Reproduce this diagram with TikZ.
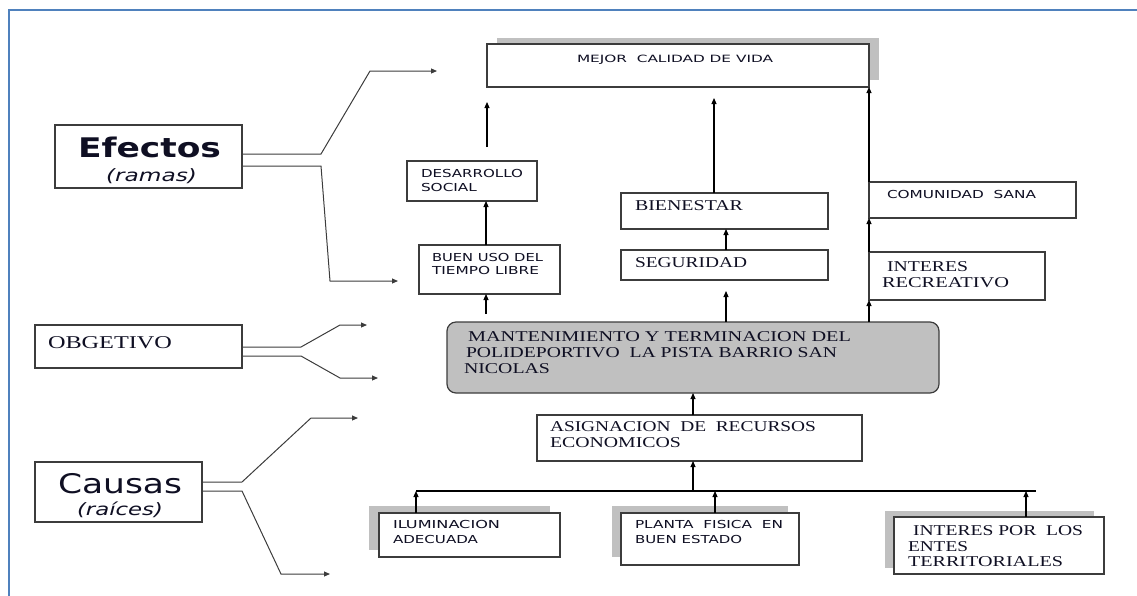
\documentclass[tikz,border=0pt]{standalone}
\usepackage{fontspec}
\setmainfont{Liberation Serif}
\newfontfamily\sanf{DejaVu Sans}
\usepackage{graphicx}
\usetikzlibrary{arrows.meta,calc}
\definecolor{frameblue}{RGB}{79,129,189}
\definecolor{boxline}{RGB}{60,60,60}
\definecolor{shadowgray}{RGB}{192,192,192}
\definecolor{maingray}{RGB}{192,192,192}
\definecolor{txtc}{RGB}{15,15,35}
\newcommand\lw[2]{\resizebox{#1pt}{\height}{#2}}
\begin{document}
\begin{tikzpicture}[x=1pt,y=-1pt,
  box/.style={draw=boxline, line width=1.2pt, fill=white, inner sep=0pt, outer sep=0pt, anchor=north west},
  mainbox/.style={box, fill=maingray, rounded corners=9pt},
  shadowbox/.style={fill=shadowgray},
  txt/.style={anchor=base west, inner sep=0pt, outer sep=0pt, text=txtc},
  sanstxt/.style={txt, font=\sanf\fontsize{11}{13}\selectfont},
  seriftxt/.style={txt, font=\fontsize{15}{17}\selectfont},
  arr/.style={draw=black, line width=1.1pt, -{Triangle[length=6pt,width=5pt]}},
  branch/.style={draw=boxline, line width=1pt, -{Triangle[length=6pt,width=5pt]}},
  plain/.style={draw=black, line width=1.1pt}
]
\useasboundingbox (0,0) rectangle (1137,595);
\clip (0,0) rectangle (1137,595);
\draw[frameblue, line width=2pt] (9,10) rectangle (1160,620);

% shadows
\fill[shadowbox] (497,38) rectangle (879,80);
\fill[shadowbox] (369,506) rectangle (550,550);
\fill[shadowbox] (612,506) rectangle (788,557);
\fill[shadowbox] (885,511) rectangle (1094,568);

% boxes
\node[box, minimum width=187pt, minimum height=63pt] (efectos) at (55,125) {};
\node[box, minimum width=207pt, minimum height=43pt] (obgetivo) at (35,325) {};
\node[box, minimum width=167pt, minimum height=60pt] (causas) at (35,462) {};
\node[box, minimum width=382pt, minimum height=43pt] (mejor) at (487,44) {};
\node[box, minimum width=130pt, minimum height=40pt] (desarrollo) at (407,161) {};
\node[box, minimum width=141pt, minimum height=49pt] (buen) at (419,245) {};
\node[box, minimum width=207pt, minimum height=36pt] (bienestar) at (621,193) {};
\node[box, minimum width=207pt, minimum height=30pt] (seguridad) at (621,250) {};
\node[box, minimum width=207pt, minimum height=36pt] (comunidad) at (869,182) {};
\node[box, minimum width=176pt, minimum height=48pt] (interes) at (869,252) {};
\node[mainbox, minimum width=492pt, minimum height=71pt] (main) at (447,322) {};
\node[box, minimum width=325pt, minimum height=46pt] (asign) at (537,415) {};
\node[box, minimum width=181pt, minimum height=44pt] (ilum) at (379,513) {};
\node[box, minimum width=178pt, minimum height=52pt] (planta) at (621,513) {};
\node[box, minimum width=210pt, minimum height=57pt] (entes) at (894,517) {};

% texts
\node[txt, font=\sanf\bfseries\fontsize{27}{30}\selectfont] (tef) at (78,157) {\lw{143}{Efectos}};
\node[txt, font=\sanf\itshape\fontsize{17}{20}\selectfont] (tra) at (106,181) {\lw{91}{(ramas)}};
\node[txt, font=\sanf\fontsize{27}{30}\selectfont] (tca) at (58,493) {\lw{124}{Causas}};
\node[txt, font=\sanf\itshape\fontsize{17}{20}\selectfont] (trc) at (77,515) {\lw{86}{(raíces)}};
\node[seriftxt, font=\fontsize{18}{20}\selectfont] (tob) at (48,348) {\lw{124}{OBGETIVO}};

\node[sanstxt, font=\sanf\fontsize{10}{12}\selectfont] (tm) at (577,62) {\lw{196}{MEJOR\ \ CALIDAD DE VIDA}};
\node[sanstxt] (td1) at (421,177) {\lw{102}{DESARROLLO}};
\node[sanstxt] (td2) at (421,191) {\lw{56}{SOCIAL}};
\node[sanstxt] (tb1) at (432,261) {\lw{111}{BUEN USO DEL}};
\node[sanstxt] (tb2) at (432,274) {\lw{107}{TIEMPO LIBRE}};
\node[sanstxt] (tc) at (887,198) {\lw{149}{COMUNIDAD\ \ SANA}};
\node[sanstxt] (ti1) at (393,528) {\lw{107}{ILUMINACION}};
\node[sanstxt] (ti2) at (393,543) {\lw{85}{ADECUADA}};
\node[sanstxt] (tp1) at (635,528) {\lw{148}{PLANTA\ \ FISICA\ \ EN}};
\node[sanstxt] (tp2) at (635,543) {\lw{107}{BUEN ESTADO}};

\node[seriftxt] (tbi) at (635,210) {\lw{108}{BIENESTAR}};
\node[seriftxt] (tse) at (635,267) {\lw{112}{SEGURIDAD}};
\node[seriftxt] (tir1) at (887,271) {\lw{81}{INTERES}};
\node[seriftxt] (tir2) at (882,287) {\lw{127}{RECREATIVO}};
\node[seriftxt] (tma1) at (468,341) {\lw{383}{MANTENIMIENTO Y TERMINACION DEL}};
\node[seriftxt] (tma2) at (466,357) {\lw{371}{POLIDEPORTIVO\ \ LA PISTA BARRIO SAN}};
\node[seriftxt] (tma3) at (464,373) {\lw{86}{NICOLAS}};
\node[seriftxt] (tas1) at (550,431) {\lw{266}{ASIGNACION\ \ DE\ \ RECURSOS}};
\node[seriftxt] (tas2) at (550,447) {\lw{131}{ECONOMICOS}};
\node[seriftxt] (ten1) at (913,535) {\lw{170}{INTERES POR\ \ LOS}};
\node[seriftxt] (ten2) at (908,551) {\lw{60}{ENTES}};
\node[seriftxt] (ten3) at (908,566) {\lw{155}{TERRITORIALES}};

% column coordinates
\coordinate (xA) at (486,0);
\coordinate (xB) at (714,0);
\coordinate (xC) at (726,0);
\coordinate (xE) at (693,0);
\coordinate (xF) at (416,0);
\coordinate (xG) at (715,0);
\coordinate (xH) at (1026,0);
\coordinate (bu0) at (486,314);
\coordinate (de1) at (487,147);
\coordinate (de2) at (487,102);
\coordinate (bi2) at (714,98);
\coordinate (se2) at (726,291);
\coordinate (barL) at (416,491);
\coordinate (barR) at (1036,491);

% vertical connectors
\draw[arr] (bu0) -- (buen.south -| xA);
\draw[arr] (buen.north -| xA) -- (desarrollo.south -| xA);
\draw[arr] (de1) -- (de2);
\draw[arr] (bienestar.north -| xB) -- (bi2);
\draw[arr] (seguridad.north -| xC) -- (bienestar.south -| xC);
\draw[arr] (main.north -| interes.west) -- (interes.south west);
\draw[arr] (main.north -| xC) -- (se2);
\draw[arr] (interes.north west) -- (comunidad.south west);
\draw[arr] (comunidad.north west) -- (mejor.south east);
\draw[arr] (asign.north -| xE) -- (main.south -| xE);
\draw[plain] (barL) -- (barR);
\draw[arr] (barL -| xE) -- (asign.south -| xE);
\draw[arr] (ilum.north -| xF) -- (barL);
\draw[arr] (planta.north -| xG) -- (barL -| xG);
\draw[arr] (entes.north -| xH) -- (barL -| xH);

% branch connectors
\draw[branch] ($(efectos.north east)+(0,29)$) -- (321,154) -- (370,71) -- (437,71);
\draw[branch] ($(efectos.north east)+(0,41)$) -- (321,166) -- (330,281) -- (398,281);
\draw[branch] ($(obgetivo.north east)+(0,22)$) -- (301,347) -- (340,325) -- (367,325);
\draw[branch] ($(obgetivo.north east)+(0,31)$) -- (301,356) -- (340,378) -- (378,378);
\draw[branch] ($(causas.north east)+(0,20)$) -- (242,482) -- (311,418) -- (358,418);
\draw[branch] ($(causas.north east)+(0,29)$) -- (242,491) -- (281,574) -- (330,574);
\end{tikzpicture}
\end{document}
